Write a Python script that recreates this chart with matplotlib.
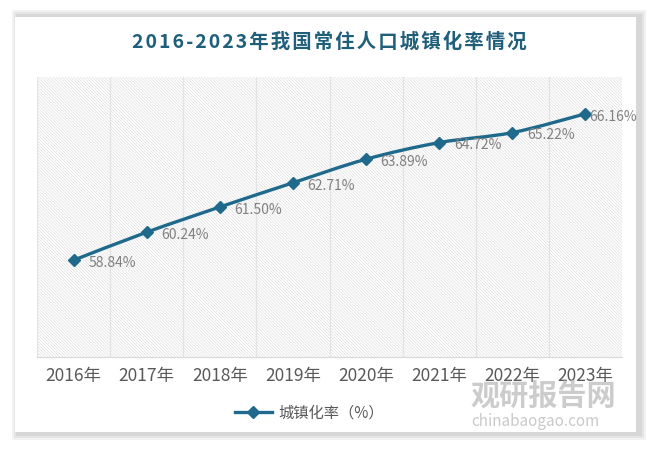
import matplotlib.pyplot as plt
import numpy as np
from matplotlib.path import Path
from matplotlib.patches import PathPatch, Rectangle

plt.rcParams['font.family'] = ['Noto Sans CJK SC', 'DejaVu Sans']
plt.rcParams['hatch.color'] = '#dcdcdc'
plt.rcParams['hatch.linewidth'] = 0.45

years = ['2016年', '2017年', '2018年', '2019年', '2020年', '2021年', '2022年', '2023年']
rate = [58.84, 60.24, 61.50, 62.71, 63.89, 64.72, 65.22, 66.16]
labels = ['58.84%', '60.24%', '61.50%', '62.71%', '63.89%', '64.72%', '65.22%', '66.16%']

line_color = '#1f6a8c'

fig = plt.figure(figsize=(6.58, 4.54), dpi=100)

# card with soft shadow
for i, a in enumerate([0.05, 0.05, 0.06]):
    d = (3 - i) * 2
    fig.patches.append(Rectangle(((15 - d + 3) / 658, 1 - (434 + d) / 454), (622 + 2 * d) / 658, (418 + 2 * d) / 454,
                                 transform=fig.transFigure, facecolor='#000000', alpha=a, edgecolor='none', zorder=0))
fig.patches.append(Rectangle((15 / 658, 1 - 432 / 454), 621 / 658, 415 / 454,
                             transform=fig.transFigure, facecolor='white', edgecolor='none', zorder=1))

ax = fig.add_axes([37 / 658, 1 - 357 / 454, 585 / 658, 280 / 454])
ax.set_zorder(2)
ax.patch.set_facecolor('white')
ax.patch.set_hatch('\\' * 11)
ax.patch.set_edgecolor('#dcdcdc')

x = np.arange(len(years))
ax.set_xlim(-0.5, len(years) - 0.5)
ax.set_ylim(54, 68)

for b in np.arange(-0.5, len(years), 1.0):
    ax.axvline(b, color='#e3e3e3', lw=0.9, zorder=1)

# smooth curve through the points (Catmull-Rom as cubic bezier)
pts = list(zip(x, rate))
verts = [pts[0]]
codes = [Path.MOVETO]
n = len(pts)
for i in range(n - 1):
    p0 = pts[i - 1] if i > 0 else pts[i]
    p1 = pts[i]
    p2 = pts[i + 1]
    p3 = pts[i + 2] if i + 2 < n else pts[i + 1]
    c1 = (p1[0] + (p2[0] - p0[0]) / 6, p1[1] + (p2[1] - p0[1]) / 6)
    c2 = (p2[0] - (p3[0] - p1[0]) / 6, p2[1] - (p3[1] - p1[1]) / 6)
    verts += [c1, c2, p2]
    codes += [Path.CURVE4] * 3
ax.add_patch(PathPatch(Path(verts, codes), facecolor='none', edgecolor=line_color, lw=2.4, zorder=3))
ax.plot(x, rate, linestyle='none', marker='D', ms=6, color=line_color, zorder=4)
ax.plot([], [], color=line_color, lw=2.4, marker='D', ms=6, label='城镇化率（%）')

for i, (xi, yi, t) in enumerate(zip(x, rate, labels)):
    dx = 3 if i == len(x) - 1 else 10.5
    ax.annotate(t, (xi, yi), xytext=(dx, -2), textcoords='offset points', fontsize=10,
                color='#808080', ha='left', va='center', zorder=5)

ax.set_xticks(x)
ax.set_xticklabels(years, fontsize=12.5, color='#595959')
ax.tick_params(axis='x', length=0, pad=7)
ax.set_yticks([])
for s in ['top', 'right', 'left']:
    ax.spines[s].set_visible(False)
ax.spines['bottom'].set_color('#d9d9d9')

fig.text(0.5, 1 - 42 / 454, '\u200a'.join('2016-2023年我国常住人口城镇化率情况'), ha='center', va='center',
         fontsize=14, fontweight='bold', color='#1f5f7a', zorder=3)

leg = fig.legend(loc='center', bbox_to_anchor=(0.47, 1 - 413 / 454), frameon=False,
                 fontsize=11, handlelength=2.4, handletextpad=0.4)
for t in leg.get_texts():
    t.set_color('#595959')

# watermark
fig.text(543 / 658, 1 - 396 / 454, '观研报告网', ha='center', va='center', fontsize=21,
         fontweight='bold', color='#c4c4c4', alpha=0.85, zorder=6)
fig.text(535 / 658, 1 - 421 / 454, 'chinabaogao.com', ha='center', va='center', fontsize=11,
         color='#c4c4c4', alpha=0.9, zorder=6)

fig.savefig('out.png', dpi=100)
